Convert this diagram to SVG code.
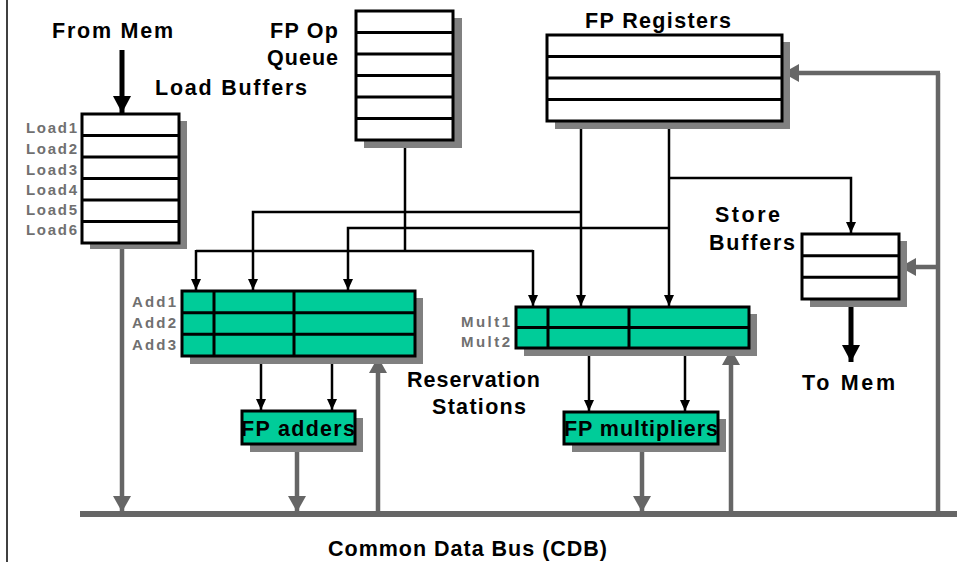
<svg xmlns="http://www.w3.org/2000/svg" width="959" height="562" viewBox="0 0 959 562">
<defs>
<style>
.box{fill:#fff;stroke:#000;stroke-width:3}
.rs{fill:#00CC99;stroke:#000;stroke-width:3}
.sh{fill:#808080}
.rl{stroke:#000;stroke-width:3;fill:none}
.w{stroke:#000;stroke-width:2.5;fill:none}
.wa{stroke:#000;stroke-width:2.5;fill:none;marker-end:url(#ab)}
.g{stroke:#666;stroke-width:4.5;fill:none}
.ga{stroke:#666;stroke-width:4.5;fill:none;marker-end:url(#ag)}
.big{stroke:#000;stroke-width:5;fill:none;marker-end:url(#abig)}
.t{font-family:"Liberation Sans",Arial,sans-serif;font-weight:bold;font-size:21.5px;fill:#000}
.lb{font-family:"Liberation Sans",Arial,sans-serif;font-weight:bold;font-size:15px;fill:#707070;text-anchor:end}
</style>
<marker id="ab" markerUnits="userSpaceOnUse" markerWidth="12" markerHeight="12" refX="11" refY="5" orient="auto"><path d="M0,0 L11,5 L0,10 Z" fill="#000"/></marker>
<marker id="ag" markerUnits="userSpaceOnUse" markerWidth="18" markerHeight="20" refX="16" refY="9" orient="auto"><path d="M0,0 L16,9 L0,18 Z" fill="#666"/></marker>
<marker id="abig" markerUnits="userSpaceOnUse" markerWidth="18" markerHeight="20" refX="17" refY="9" orient="auto"><path d="M0,0 L17,9 L0,18 Z" fill="#000"/></marker>
</defs>
<rect width="959" height="562" fill="#fff"/>
<line x1="7" y1="0" x2="7" y2="562" stroke="#000" stroke-width="1.5"/>

<g id="connectors">
<line class="g" x1="80" y1="514" x2="957" y2="514" style="stroke-width:6"/>
<line class="ga" x1="122" y1="243" x2="122" y2="512"/>
<line class="ga" x1="297" y1="452" x2="297" y2="512"/>
<line class="ga" x1="378" y1="514" x2="378" y2="357"/>
<line class="ga" x1="642" y1="452" x2="642" y2="512"/>
<line class="ga" x1="731" y1="514" x2="731" y2="349"/>
<polyline class="g" points="938,516 938,73"/>
<line class="ga" x1="940" y1="73" x2="783" y2="73"/>
<line class="ga" x1="938" y1="267" x2="900" y2="267"/>
<line class="w" x1="405" y1="140" x2="405" y2="251"/>
<line class="w" x1="196" y1="251" x2="533" y2="251"/>
<line class="wa" x1="196" y1="250" x2="196" y2="290"/>
<line class="wa" x1="533" y1="250" x2="533" y2="306"/>
<line class="wa" x1="581" y1="121" x2="581" y2="306"/>
<polyline class="wa" points="581,212 253,212 253,290"/>
<line class="wa" x1="669" y1="121" x2="669" y2="306"/>
<polyline class="wa" points="669,228 348,228 348,290"/>
<polyline class="wa" points="669,178 851,178 851,233"/>
<line class="wa" x1="261" y1="356" x2="261" y2="410"/>
<line class="wa" x1="332" y1="356" x2="332" y2="410"/>
<line class="wa" x1="589" y1="348" x2="589" y2="411"/>
<line class="wa" x1="685" y1="348" x2="685" y2="411"/>
<line class="big" x1="122" y1="50" x2="122" y2="113"/>
<line class="big" x1="851" y1="299" x2="851" y2="362"/>
</g>

<g id="load-buffers">
<rect class="sh" x="90" y="121" width="97" height="128"/>
<rect class="box" x="82" y="114" width="97" height="129"/>
<path class="rl" d="M82,135.5H179M82,157H179M82,178.5H179M82,200H179M82,221.5H179"/>
<text class="lb" x="77" y="133" textLength="51">Load1</text>
<text class="lb" x="77" y="154" textLength="51">Load2</text>
<text class="lb" x="77" y="175" textLength="51">Load3</text>
<text class="lb" x="77" y="195" textLength="51">Load4</text>
<text class="lb" x="77" y="215" textLength="51">Load5</text>
<text class="lb" x="77" y="235" textLength="51">Load6</text>
</g>

<g id="fp-op-queue">
<rect class="sh" x="364" y="18" width="98" height="130"/>
<rect class="box" x="356" y="11" width="97" height="129"/>
<path class="rl" d="M356,32.5H453M356,54H453M356,75.5H453M356,97H453M356,118.5H453"/>
</g>

<g id="fp-registers">
<rect class="sh" x="555" y="42" width="235" height="87"/>
<rect class="box" x="547" y="35" width="235" height="86"/>
<path class="rl" d="M547,56.5H782M547,78H782M547,99.5H782"/>
</g>

<g id="store-buffers">
<rect class="sh" x="810" y="241" width="97" height="66"/>
<rect class="box" x="802" y="234" width="97" height="65"/>
<path class="rl" d="M802,255.7H899M802,277.3H899"/>
</g>

<g id="add-rs">
<rect class="sh" x="190" y="298" width="233" height="66"/>
<rect class="rs" x="182" y="291" width="233" height="65"/>
<path class="rl" d="M182,312.7H415M182,334.3H415M214,291V356M294,291V356"/>
<text class="lb" x="176" y="307" textLength="44">Add1</text>
<text class="lb" x="176" y="328" textLength="44">Add2</text>
<text class="lb" x="176" y="350" textLength="44">Add3</text>
</g>

<g id="mult-rs">
<rect class="sh" x="524" y="314" width="233" height="42"/>
<rect class="rs" x="516" y="307" width="233" height="41"/>
<path class="rl" d="M516,327.5H749M548,307V348M629,307V348"/>
<text class="lb" x="510" y="327" textLength="49">Mult1</text>
<text class="lb" x="510" y="347" textLength="49">Mult2</text>
</g>

<g id="fp-adders">
<rect class="sh" x="250" y="418" width="113" height="34"/>
<rect class="rs" x="242" y="411" width="113" height="33"/>
<text class="t" x="241" y="436" textLength="114">FP adders</text>
</g>

<g id="fp-multipliers">
<rect class="sh" x="572" y="419" width="154" height="33"/>
<rect class="rs" x="564" y="412" width="154" height="32"/>
<text class="t" x="564" y="436" textLength="154">FP multipliers</text>
</g>

<g id="labels">
<text class="t" x="52" y="38" textLength="121">From Mem</text>
<text class="t" x="270" y="38" textLength="68">FP Op</text>
<text class="t" x="267" y="65" textLength="71">Queue</text>
<text class="t" x="155" y="95" textLength="152">Load Buffers</text>
<text class="t" x="585" y="28" textLength="146">FP Registers</text>
<text class="t" x="715" y="222" textLength="65">Store</text>
<text class="t" x="709" y="250" textLength="86">Buffers</text>
<text class="t" x="407" y="387" textLength="133">Reservation</text>
<text class="t" x="432" y="414" textLength="94">Stations</text>
<text class="t" x="802" y="390" textLength="93">To Mem</text>
<text class="t" x="328" y="556" textLength="279">Common Data Bus (CDB)</text>
</g>
</svg>
